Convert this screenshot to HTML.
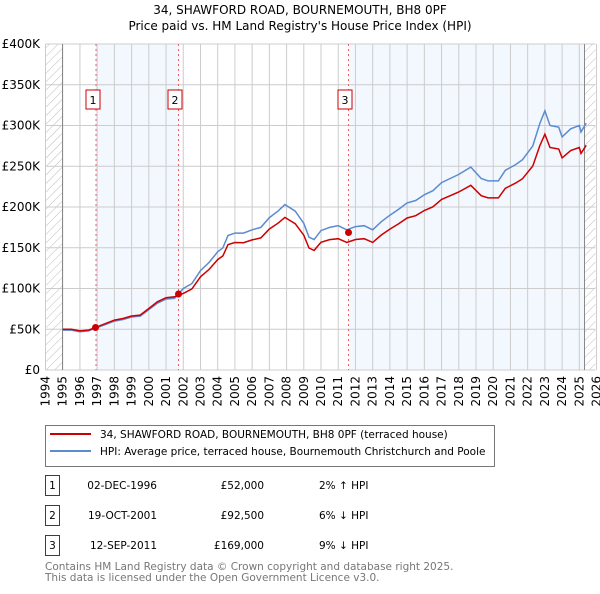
<!DOCTYPE html>
<html><head><meta charset="utf-8"><style>
body{margin:0;background:#fff;width:600px;height:590px;overflow:hidden;font-family:"DejaVu Sans","Liberation Sans",sans-serif;}
</style></head><body>
<svg id="s" width="600" height="590" xmlns="http://www.w3.org/2000/svg" font-family="DejaVu Sans, Liberation Sans, sans-serif">
<defs><pattern id="h" width="6" height="6" patternUnits="userSpaceOnUse" patternTransform="rotate(45)"><line x1="0" y1="0" x2="0" y2="6" stroke="#bbb" stroke-width="1"/></pattern></defs>
<text x="300" y="14" font-size="12" text-anchor="middle">34, SHAWFORD ROAD, BOURNEMOUTH, BH8 0PF</text>
<text x="300" y="30" font-size="12" text-anchor="middle">Price paid vs. HM Land Registry's House Price Index (HPI)</text>
<rect x="96" y="44" width="84" height="326" fill="#eef3fd" opacity="0.7"/>
<rect x="349" y="44" width="235" height="326" fill="#eef3fd" opacity="0.7"/>
<rect x="45.5" y="44" width="17" height="326" fill="url(#h)"/>
<rect x="584" y="44" width="11.5" height="326" fill="url(#h)"/>
<g id="grid" stroke="#ccc" stroke-width="1"></g>
<line x1="62.5" y1="44" x2="62.5" y2="370" stroke="#888"/>
<line x1="584.5" y1="44" x2="584.5" y2="370" stroke="#888"/>
<g id="ylab" font-size="12" text-anchor="end"></g>
<g id="xlab" font-size="12"></g>
<g stroke="#f06060" stroke-dasharray="2,3" stroke-width="1">
<line x1="96" y1="44" x2="96" y2="370"/><line x1="178.5" y1="44" x2="178.5" y2="370"/><line x1="348.5" y1="44" x2="348.5" y2="370"/></g>
<g font-size="11" text-anchor="middle">
<rect x="86" y="90" width="14" height="19" fill="#fff" stroke="#c00"/><text x="93" y="104">1</text>
<rect x="168" y="90" width="14" height="19" fill="#fff" stroke="#c00"/><text x="175" y="104">2</text>
<rect x="338" y="90" width="14" height="19" fill="#fff" stroke="#c00"/><text x="345" y="104">3</text></g>
<polyline id="blue" fill="none" stroke="#5b8bd0" stroke-width="1.5"/>
<polyline id="red" fill="none" stroke="#cc0000" stroke-width="1.5"/>
<g fill="#cc0000"><circle cx="95.5" cy="327.5" r="3.5"/><circle cx="178.5" cy="294" r="3.5"/><circle cx="348.5" cy="232.5" r="3.5"/></g>
<rect x="45.5" y="425.5" width="449" height="41" fill="#fff" stroke="#777"/>
<line x1="50" y1="434" x2="91" y2="434" stroke="#cc0000" stroke-width="2"/>
<line x1="50" y1="451" x2="91" y2="451" stroke="#5b8bd0" stroke-width="2"/>
<text x="100" y="438" font-size="10.5">34, SHAWFORD ROAD, BOURNEMOUTH, BH8 0PF (terraced house)</text>
<text x="100" y="455" font-size="10.5">HPI: Average price, terraced house, Bournemouth Christchurch and Poole</text>
<g font-size="10.5">
<rect x="45.5" y="475.5" width="14" height="20" fill="none" stroke="#c00"/><text x="52.5" y="489" text-anchor="middle">1</text>
<text x="157" y="489" text-anchor="end">02-DEC-1996</text><text x="264" y="489" text-anchor="end">£52,000</text><text x="319" y="489">2% ↑ HPI</text>
<rect x="45.5" y="505.5" width="14" height="20" fill="none" stroke="#c00"/><text x="52.5" y="519" text-anchor="middle">2</text>
<text x="157" y="519" text-anchor="end">19-OCT-2001</text><text x="264" y="519" text-anchor="end">£92,500</text><text x="319" y="519">6% ↓ HPI</text>
<rect x="45.5" y="535.5" width="14" height="20" fill="none" stroke="#c00"/><text x="52.5" y="549" text-anchor="middle">3</text>
<text x="157" y="549" text-anchor="end">12-SEP-2011</text><text x="264" y="549" text-anchor="end">£169,000</text><text x="319" y="549">9% ↓ HPI</text>
<text x="45" y="570" fill="#777">Contains HM Land Registry data © Crown copyright and database right 2025.</text>
<text x="45" y="581" fill="#777">This data is licensed under the Open Government Licence v3.0.</text>
</g>
</svg>
<script>
var X=function(y){return 45.5+(y-1994)*17.22},Y=function(v){return 370-v*0.815};
var g=document.getElementById('grid'),yl=document.getElementById('ylab'),xl=document.getElementById('xlab'),NS='http://www.w3.org/2000/svg';
function el(p,t,a,txt){var e=document.createElementNS(NS,t);for(var k in a)e.setAttribute(k,a[k]);if(txt)e.textContent=txt;p.appendChild(e);return e;}
for(var v=0;v<=400;v+=50){var y=Y(v);el(g,'line',{x1:45.5,x2:595.5,y1:y,y2:y});el(yl,'text',{x:40,y:y+4},v==0?'£0':'£'+v+'K');}
for(var yr=1994;yr<=2026;yr++){var x=X(yr);el(g,'line',{x1:x,x2:x,y1:44,y2:370});el(xl,'text',{x:0,y:0,transform:'translate('+(x+4)+',376) rotate(-90)','text-anchor':'end'},yr);}
var B=[[1995,49],[1995.5,49],[1996,47],[1996.5,48],[1997,52],[1997.5,56],[1998,60],[1998.5,62],[1999,65],[1999.5,66],[2000,74],[2000.5,82],[2001,87],[2001.5,88],[2002,100],[2002.5,106],[2003,122],[2003.5,132],[2004,145],[2004.3,150],[2004.6,165],[2005,168],[2005.5,168],[2006,172],[2006.5,175],[2007,187],[2007.5,195],[2007.9,203],[2008.5,195],[2009,180],[2009.3,163],[2009.6,160],[2010,171],[2010.5,175],[2011,177],[2011.5,172],[2012,176],[2012.5,177],[2013,172],[2013.5,182],[2014,190],[2014.5,197],[2015,205],[2015.5,208],[2016,215],[2016.5,220],[2017,230],[2017.5,235],[2018,240],[2018.7,249],[2019.3,235],[2019.7,232],[2020.3,232],[2020.7,245],[2021.3,252],[2021.7,258],[2022.3,275],[2022.7,302],[2023,318],[2023.3,300],[2023.8,298],[2024,286],[2024.5,296],[2025,300],[2025.1,292],[2025.4,303]];
function r(y){if(y<2001.8)return 1.02;if(y<2011)return 0.94-(y-2002)*0.003;return 0.91;}
function pts(f){return B.map(function(p){return X(p[0]).toFixed(1)+','+Y(p[1]*f(p[0])).toFixed(1)}).join(' ');}
document.getElementById('blue').setAttribute('points',pts(function(){return 1}));
document.getElementById('red').setAttribute('points',pts(r));
</script>
</body></html>
